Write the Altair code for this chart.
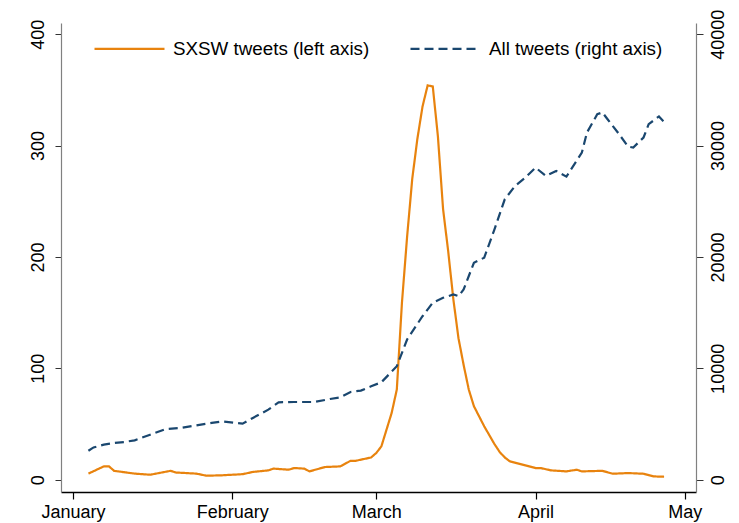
import altair as alt
import pandas as pd

# ---------------- data ----------------
sxsw_dates = [
    "2011-01-04", "2011-01-07", "2011-01-08", "2011-01-09", "2011-01-13", "2011-01-16",
    "2011-01-20", "2011-01-21", "2011-01-25", "2011-01-27", "2011-01-30", "2011-02-03",
    "2011-02-05", "2011-02-08", "2011-02-09", "2011-02-12", "2011-02-13", "2011-02-15",
    "2011-02-16", "2011-02-19", "2011-02-22", "2011-02-24", "2011-02-25", "2011-02-28",
    "2011-03-01", "2011-03-02", "2011-03-03", "2011-03-04", "2011-03-05", "2011-03-06",
    "2011-03-07", "2011-03-08", "2011-03-09", "2011-03-10", "2011-03-11", "2011-03-12",
    "2011-03-13", "2011-03-14", "2011-03-15", "2011-03-16", "2011-03-17", "2011-03-18",
    "2011-03-19", "2011-03-20", "2011-03-21", "2011-03-22", "2011-03-23", "2011-03-24",
    "2011-03-25", "2011-03-26", "2011-03-27", "2011-04-01", "2011-04-02", "2011-04-04",
    "2011-04-07", "2011-04-09", "2011-04-10", "2011-04-14", "2011-04-16", "2011-04-19",
    "2011-04-22", "2011-04-24", "2011-04-26",
]
sxsw_values = [
    5.5, 12, 12, 8, 5.5, 4.5,
    8, 6.5, 5.5, 3.6, 4, 5,
    7, 8.4, 10, 9, 10.5, 10,
    7.5, 11.4, 12, 17, 17, 20,
    24, 30, 45, 60, 81, 159,
    218, 270, 306, 335, 354, 353,
    308, 243, 205, 162, 127, 103,
    81, 66, 57, 48, 40, 32,
    25, 20, 16.5, 10.5, 10.5, 8.4,
    7.5, 9, 7.5, 8, 5.4, 6,
    5.4, 3, 2.7,
]

all_dates = [
    "2011-01-04", "2011-01-05", "2011-01-07", "2011-01-09", "2011-01-11", "2011-01-13",
    "2011-01-16", "2011-01-19", "2011-01-22", "2011-01-25", "2011-01-28", "2011-01-30",
    "2011-02-03", "2011-02-05", "2011-02-08", "2011-02-10", "2011-02-13", "2011-02-17",
    "2011-02-20", "2011-02-22", "2011-02-24", "2011-02-26", "2011-02-28", "2011-03-02",
    "2011-03-05", "2011-03-07", "2011-03-10", "2011-03-12", "2011-03-14", "2011-03-16",
    "2011-03-17", "2011-03-18", "2011-03-20", "2011-03-22", "2011-03-24", "2011-03-26",
    "2011-03-28", "2011-03-30", "2011-04-01", "2011-04-03", "2011-04-05", "2011-04-07",
    "2011-04-10", "2011-04-11", "2011-04-13", "2011-04-14", "2011-04-15", "2011-04-17",
    "2011-04-19", "2011-04-20", "2011-04-22", "2011-04-23", "2011-04-25", "2011-04-26",
]
all_values = [
    2600, 2900, 3150, 3300, 3390, 3540,
    4045, 4550, 4650, 4880, 5100, 5240,
    5030, 5550, 6290, 6950, 6980, 6980,
    7250, 7400, 7880, 8000, 8390, 8750,
    10190, 12590, 14680, 15890, 16330, 16630,
    16480, 17080, 19480, 19930, 22475, 25170,
    26370, 27120, 28020, 27270, 27720, 27210,
    29370, 31170, 32810, 32970, 32360, 31170,
    29910, 29820, 30720, 31915, 32610, 32120,
]

series_names = ["SXSW tweets (left axis)", "All tweets (right axis)"]
series_colors = ["#E8830E", "#1A476F"]
series_dashes = [[1, 0], [9, 5]]

x_tick_dates = [(2011, 1, 1), (2011, 2, 1), (2011, 3, 1), (2011, 4, 1), (2011, 4, 30)]
x_tick_labels = ["January", "February", "March", "April", "May"]
left_ticks = [0, 100, 200, 300, 400]
right_ticks = [0, 10000, 20000, 30000, 40000]

# ---------------- table ----------------
df = pd.concat([
    pd.DataFrame({"date": [d + "T00:00:00" for d in sxsw_dates],
                  "value": sxsw_values, "series": series_names[0]}),
    pd.DataFrame({"date": [d + "T00:00:00" for d in all_dates],
                  "value": all_values, "series": series_names[1]}),
], ignore_index=True)

FONT = "Liberation Sans"

key_list = ",".join("'%04d-%02d-%02d'" % t for t in x_tick_dates)
lab_list = ",".join("'%s'" % s for s in x_tick_labels)
label_expr = "[%s][indexof([%s], timeFormat(datum.value, '%%Y-%%m-%%d'))]" % (lab_list, key_list)

x_enc = alt.X(
    "date:T",
    scale=alt.Scale(domain=[alt.DateTime(year=2010, month=12, date=29, hours=16),
                            alt.DateTime(year=2011, month=5, date=2, hours=5)]),
    axis=alt.Axis(
        title=None,
        values=[alt.DateTime(year=y, month=m, date=d) for (y, m, d) in x_tick_dates],
        labelExpr=label_expr,
        domainColor="#000000", domainWidth=1.6,
        tickSize=7, tickColor="#000000", tickWidth=1.2,
        labelPadding=4, labelFontSize=18, labelFont=FONT, labelColor="#000000",
        grid=False,
    ),
)

legend = alt.Legend(
    orient="none", legendX=32, legendY=-11, direction="horizontal", columns=2,
    title=None, symbolType="stroke", symbolSize=4900, symbolStrokeWidth=2.2,
    labelFontSize=18.8, labelFont=FONT, labelColor="#000000", labelOffset=7,
    columnPadding=36, labelLimit=400, padding=0,
)

color_enc = alt.Color("series:N", scale=alt.Scale(domain=series_names, range=series_colors),
                      legend=legend)
dash_enc = alt.StrokeDash("series:N", scale=alt.Scale(domain=series_names, range=series_dashes),
                          legend=legend)

left = alt.Chart(df).transform_filter(
    alt.datum.series == series_names[0]
).mark_line(strokeWidth=2.2).encode(
    x=x_enc,
    y=alt.Y("value:Q", scale=alt.Scale(domain=[-11, 410], nice=False, zero=False),
            axis=alt.Axis(title=None, orient="left", values=left_ticks, format="d",
                          labelAngle=270, labelAlign="center", labelBaseline="bottom",
                          labelPadding=8, tickSize=6, tickColor="#333333",
                          domainColor="#808080", domainWidth=1.2,
                          labelFontSize=18, labelFont=FONT, labelColor="#000000",
                          grid=False)),
    color=color_enc,
    strokeDash=dash_enc,
)

right = alt.Chart(df).transform_filter(
    alt.datum.series == series_names[1]
).mark_line(strokeWidth=2.2).encode(
    x=x_enc,
    y=alt.Y("value:Q", scale=alt.Scale(domain=[-1100, 41000], nice=False, zero=False),
            axis=alt.Axis(title=None, orient="right", values=right_ticks, format="d",
                          labelAngle=270, labelAlign="center", labelBaseline="top",
                          labelPadding=6, tickSize=7, tickColor="#333333",
                          domainColor="#808080", domainWidth=1.2,
                          labelFontSize=18, labelFont=FONT, labelColor="#000000",
                          grid=False)),
    color=color_enc,
    strokeDash=dash_enc,
)

chart = alt.layer(left, right).resolve_scale(y="independent").properties(
    width=635, height=469,
    autosize=alt.AutoSizeParams(type="none"),
    padding={"left": 53, "top": 15, "right": 35, "bottom": 31},
    background="white",
).configure_view(stroke=None)

chart.save("out.html", embed_options={"renderer": "svg", "actions": False})
